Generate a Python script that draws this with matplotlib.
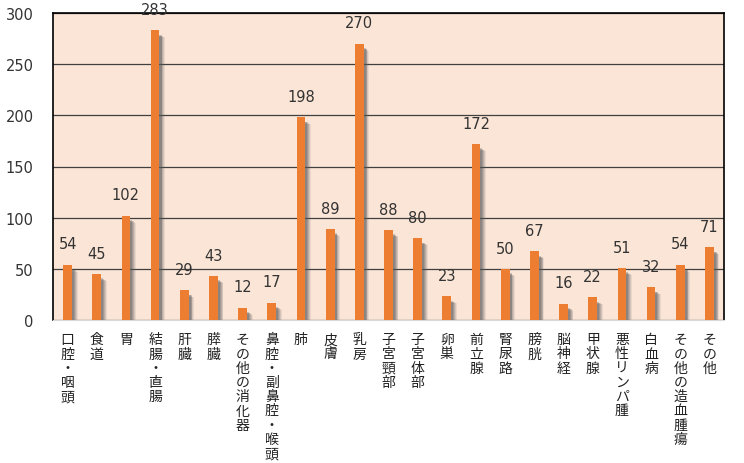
import matplotlib.pyplot as plt

categories = ['口腔・咽頭', '食道', '胃', '結腸・直腸', '肝臓', '膵臓', 'その他の消化器',
              '鼻腔・副鼻腔・喉頭', '肺', '皮膚', '乳房', '子宮頸部', '子宮体部', '卵巣',
              '前立腺', '腎尿路', '膀胱', '脳神経', '甲状腺', '悪性リンパ腫', '白血病',
              'その他の造血腫瘍', 'その他']
values = [54, 45, 102, 283, 29, 43, 12, 17, 198, 89, 270, 88, 80, 23, 172, 50, 67,
          16, 22, 51, 32, 54, 71]

plt.rcParams['font.family'] = ['DejaVu Sans', 'Noto Sans CJK JP']

fig = plt.figure(figsize=(7.44, 4.64), dpi=100)
ax = fig.add_axes([53 / 744, 1 - 321 / 464, 671 / 744, 307 / 464])
ax.set_facecolor('#FBE5D6')

x = list(range(len(values)))
# blurred grey shadow to the lower right of each bar
for off, a in [(0.19, 0.10), (0.16, 0.15), (0.13, 0.2), (0.10, 0.25), (0.07, 0.3)]:
    ax.bar([i + off for i in x], [v - 3 - off * 20 for v in values], width=0.3,
           color='#595959', alpha=a, zorder=2, linewidth=0)
ax.bar(x, values, width=0.3, color='#ED7D31', zorder=3, linewidth=0)

for i, v in zip(x, values):
    ax.text(i, v + 13, str(v), ha='center', va='bottom', fontsize=10.5, color='#333333',
            zorder=4)

ax.set_xlim(-0.5, len(values) - 0.5)
ax.set_ylim(0, 300)
ax.set_yticks(range(0, 301, 50))
ax.yaxis.grid(True, color='#404040', linewidth=0.9, zorder=1)
ax.set_axisbelow(True)
ax.tick_params(axis='y', length=0, labelsize=10.5, labelcolor='#333333', pad=14)
ax.tick_params(axis='x', length=0)
ax.set_xticks(x)
ax.set_xticklabels([])
for s in ['left', 'right', 'top']:
    ax.spines[s].set_color('black')
    ax.spines[s].set_linewidth(1.2)
ax.spines['bottom'].set_color('#d9d9d9')

for i, c in zip(x, categories):
    ax.text(i, -0.04, '\n'.join(c), transform=ax.get_xaxis_transform(),
            ha='center', va='top', fontsize=10, linespacing=1.02, color='#222222',
            family=['Noto Sans CJK JP', 'DejaVu Sans'])

fig.savefig('out.png', dpi=100)
